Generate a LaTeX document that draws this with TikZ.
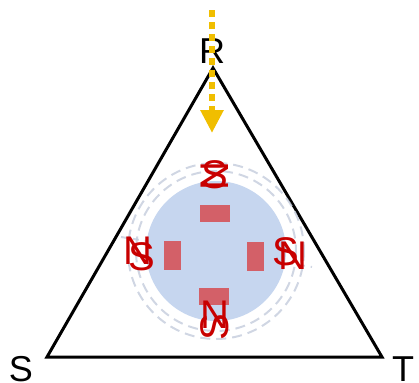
\documentclass[tikz,border=0pt]{standalone}
\usepackage{fontspec}
\setmainfont{Liberation Sans}
\usepackage{tikz}
\usetikzlibrary{arrows.meta,positioning}
\definecolor{ink}{HTML}{000000}
\definecolor{sun}{HTML}{F0BE00}
\definecolor{rotor}{HTML}{C6D6EF}
\definecolor{ring}{HTML}{C4CCDC}
\definecolor{pole}{HTML}{D5545A}
\definecolor{mark}{HTML}{C80000}

\tikzset{
  corner/.style={font=\fontsize{18}{20}\selectfont,text=ink,inner sep=0pt},
  poletag/.style={font=\fontsize{20}{22}\selectfont,text=mark,inner sep=0pt},
  magnet/.style={fill=pole,opacity=0.9,inner sep=0pt,draw=none},
}

\begin{document}
\begin{tikzpicture}[x=0.5pt,y=-0.5pt,>=Stealth]
\useasboundingbox (0,0) rectangle (419,382);
% stator triangle
\coordinate (apex) at (213,68);
\coordinate (sw) at (47,357);
\coordinate (se) at (382,357);
\draw[line width=1.5pt,ink,line join=miter] (apex) -- (sw) -- (se) -- cycle;
\node[corner] (nR) at (212,51) {R};
\node[corner] (nS) at (21,369) {S};
\node[corner] (nT) at (403,369) {T};
% rotor
\coordinate (hub) at (216,251);
\draw[ring,line width=1pt,dashed,opacity=0.8] (121,237) -- (312,267);
\draw[ring,line width=1pt,dash pattern=on 5pt off 3pt,opacity=0.8] (hub) circle (88);
\draw[ring,line width=1pt,dash pattern=on 5pt off 3pt,opacity=0.8] (hub) circle (80);
\fill[rotor] (hub) circle (70);
\node[magnet,minimum width=15pt,minimum height=8.5pt] (mTop) at (215,213) {};
\node[magnet,minimum width=15pt,minimum height=8.5pt] (mBot) at (214,296) {};
\node[magnet,minimum width=8.5pt,minimum height=14.5pt] (mLeft) at (173,255) {};
\node[magnet,minimum width=8.5pt,minimum height=14.5pt] (mRight) at (256,256) {};
% pole labels
\node[poletag] (pTopS) at (215,175) {S};
\node[poletag,rotate=90] (pTopN) at (215,176) {N};
\node[poletag] (pBotN) at (215,315) {N};
\node[poletag,rotate=90] (pBotS) at (215,327) {S};
\node[poletag] (pLeftN) at (138,251) {N};
\node[poletag] (pLeftS) at (142,257) {S};
\node[poletag] (pRightS) at (286,252) {S};
\node[poletag] (pRightN) at (293,256) {N};
% field direction
\coordinate (feed) at (212,10);
\draw[sun,line width=3pt,dash pattern=on 3.5pt off 2.5pt,-{Triangle[width=11pt,length=11.5pt]}] (feed) -- (212,133);
\end{tikzpicture}
\end{document}
